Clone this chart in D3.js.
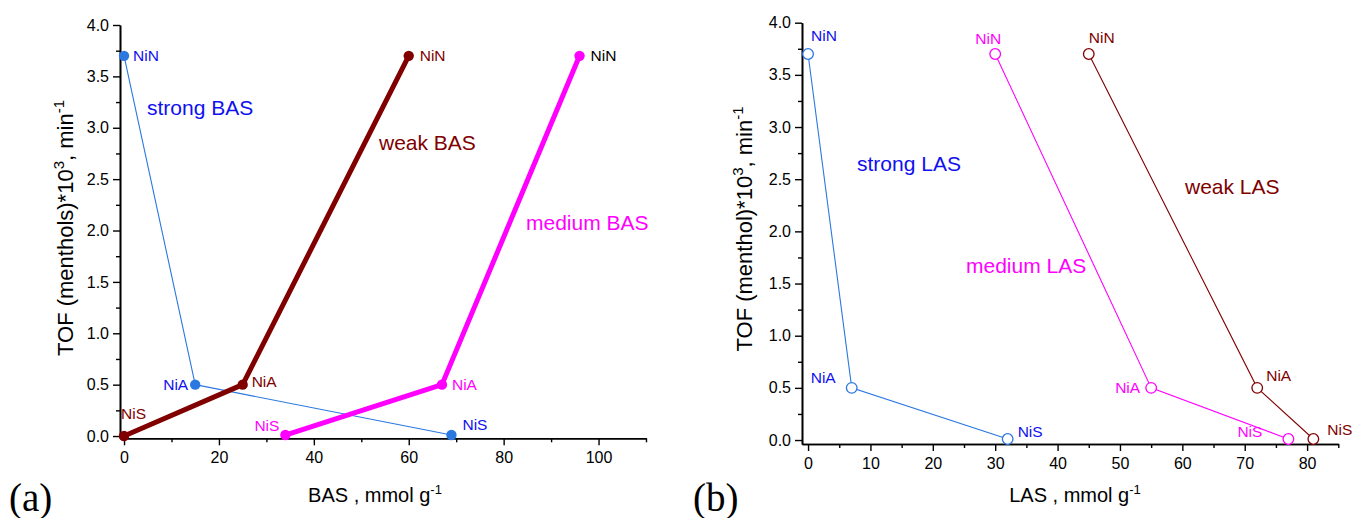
<!DOCTYPE html>
<html>
<head>
<meta charset="utf-8">
<script src="https://cdn.jsdelivr.net/npm/d3@7/dist/d3.min.js"></script>
<style>
  html, body { margin: 0; padding: 0; background: #fff; }
  svg { display: block; font-family: "Liberation Sans", Arial, Helvetica, sans-serif; }
</style>
</head>
<body>
<svg id="chart" width="1352" height="518"></svg>
<script>
// ---------- DATA ----------
const pointNames = ["NiN", "NiA", "NiS"];

// Panel (a): TOF vs BAS
const basStrongX = [0, 15, 69];
const basStrongY = [3.7, 0.5, 0.01];
const basWeakX = [60, 25, 0];
const basWeakY = [3.7, 0.5, 0.0];
const basMediumX = [96, 67, 34];
const basMediumY = [3.7, 0.5, 0.01];

// Panel (b): TOF vs LAS
const lasStrongX = [0, 7, 32];
const lasStrongY = [3.7, 0.5, 0.01];
const lasMediumX = [30, 55, 77];
const lasMediumY = [3.7, 0.5, 0.01];
const lasWeakX = [45, 72, 81];
const lasWeakY = [3.7, 0.5, 0.01];

// Tick values
const yTickValues = [0, 0.5, 1.0, 1.5, 2.0, 2.5, 3.0, 3.5, 4.0];
const yMinorValues = [0.25, 0.75, 1.25, 1.75, 2.25, 2.75, 3.25, 3.75];
const xTickValuesA = [0, 20, 40, 60, 80, 100];
const xMinorValuesA = [10, 30, 50, 70, 90, 110];
const xTickValuesB = [0, 10, 20, 30, 40, 50, 60, 70, 80];
const xMinorValuesB = [5, 15, 25, 35, 45, 55, 65, 75, 85];

// ---------- STYLE / LAYOUT ----------
const C_BLUE_LINE = "#2a78e0";
const C_BLUE_TEXT = "#1010f0";
const C_DARKRED = "#800000";
const C_MAGENTA = "#ff00ff";

const svg = d3.select("#chart");

function makeSeries(xs, ys) {
  return xs.map((x, i) => ({ x: x, y: ys[i], name: pointNames[i] }));
}

function drawAxes(g, x, y, xTicks, xMinor, xTitle, yTitleMain, yTitleX, yTitleY, xTitleX) {
  const yAxis = d3.axisLeft(y).tickValues(yTickValues).tickFormat(d3.format(".1f")).tickSize(7).tickSizeOuter(0);
  const yAxisMinor = d3.axisLeft(y).tickValues(yMinorValues).tickFormat("").tickSize(4).tickSizeOuter(0);
  const xAxis = d3.axisBottom(x).tickValues(xTicks).tickFormat(d3.format("d")).tickSize(7).tickSizeOuter(0);
  const xAxisMinor = d3.axisBottom(x).tickValues(xMinor).tickFormat("").tickSize(4).tickSizeOuter(0);

  const x0 = x.range()[0];
  const y0 = y.range()[0];

  const gy = g.append("g").attr("transform", `translate(${x0},0)`).call(yAxis);
  g.append("g").attr("transform", `translate(${x0},0)`).call(yAxisMinor);
  const gx = g.append("g").attr("transform", `translate(0,${y0})`).call(xAxis);
  g.append("g").attr("transform", `translate(0,${y0})`).call(xAxisMinor);

  g.selectAll(".domain").attr("stroke", "#000").attr("stroke-width", 1.6);
  g.selectAll(".tick line").attr("stroke", "#000").attr("stroke-width", 1.4);
  gy.selectAll(".tick text").attr("font-size", 16).attr("fill", "#000").attr("dx", -1)
    .style("font-family", "'Liberation Sans', Arial, sans-serif");
  gx.selectAll(".tick text").attr("font-size", 16).attr("fill", "#000").attr("dy", "0.95em")
    .style("font-family", "'Liberation Sans', Arial, sans-serif");

  // x title
  const xt = g.append("text").attr("x", xTitleX).attr("y", 502)
    .attr("text-anchor", "middle").attr("font-size", 20).attr("fill", "#000");
  xt.append("tspan").text(xTitle);
  xt.append("tspan").attr("font-size", 13).attr("dy", -8).text("-1");

  // y title
  const yt = g.append("text")
    .attr("transform", `translate(${yTitleX},${yTitleY}) rotate(-90)`)
    .attr("text-anchor", "middle").attr("font-size", 22).attr("fill", "#000");
  yt.append("tspan").text(yTitleMain);
  yt.append("tspan").attr("font-size", 15).attr("dy", -9).text("3");
  yt.append("tspan").attr("dy", 9).text(", min");
  yt.append("tspan").attr("font-size", 15).attr("dy", -9).text("-1");
}

function drawLabel(g, x, y, d, off, color) {
  g.append("text")
    .attr("x", x(d.x) + off[0]).attr("y", y(d.y) + off[1])
    .attr("text-anchor", off[2]).attr("dominant-baseline", "central")
    .attr("font-size", 15.5).attr("fill", color).text(d.name);
}

// ---------- PANEL (a) ----------
const gA = svg.append("g");
const xA = d3.scaleLinear().domain([-0.85, 110]).range([120, 646]);
const yA = d3.scaleLinear().domain([-0.022, 4.0]).range([438.3, 25]);
drawAxes(gA, xA, yA, xTickValuesA, xMinorValuesA, "BAS , mmol g", "TOF (menthols)*10", 73, 228, 375);

const lineA = d3.line().x(d => xA(d.x)).y(d => yA(d.y));
const seriesA = [
  { data: makeSeries(basStrongX, basStrongY), color: C_BLUE_LINE, width: 1.1,
    labelColors: [C_BLUE_TEXT, C_BLUE_TEXT, C_BLUE_TEXT],
    offsets: [[9, 0, "start"], [-7, 0, "end"], [11, -11, "start"]] },
  { data: makeSeries(basWeakX, basWeakY), color: C_DARKRED, width: 5,
    labelColors: [C_DARKRED, C_DARKRED, C_DARKRED],
    offsets: [[11, 0, "start"], [9, -3, "start"], [-3, -23, "start"]] },
  { data: makeSeries(basMediumX, basMediumY), color: C_MAGENTA, width: 5,
    labelColors: ["#000", C_MAGENTA, C_MAGENTA],
    offsets: [[11, 0, "start"], [10, 0, "start"], [-6, -10, "end"]] }
];
seriesA.forEach(s => {
  gA.append("path").datum(s.data).attr("d", lineA).attr("fill", "none")
    .attr("stroke", s.color).attr("stroke-width", s.width).attr("stroke-linejoin", "round");
});
seriesA.forEach(s => {
  gA.selectAll(null).data(s.data).enter().append("circle")
    .attr("cx", d => xA(d.x)).attr("cy", d => yA(d.y)).attr("r", 5.2).attr("fill", s.color);
  s.data.forEach((d, i) => drawLabel(gA, xA, yA, d, s.offsets[i], s.labelColors[i]));
});

gA.append("text").attr("x", 147).attr("y", 107).attr("dominant-baseline", "central")
  .attr("font-size", 21).attr("fill", C_BLUE_TEXT).text("strong BAS");
gA.append("text").attr("x", 379).attr("y", 142).attr("dominant-baseline", "central")
  .attr("font-size", 21).attr("fill", C_DARKRED).text("weak BAS");
gA.append("text").attr("x", 526).attr("y", 222).attr("dominant-baseline", "central")
  .attr("font-size", 21).attr("fill", C_MAGENTA).text("medium BAS");
gA.append("text").attr("x", 9).attr("y", 511)
  .attr("font-family", "'Liberation Serif', 'Times New Roman', serif").attr("font-size", 39)
  .attr("fill", "#000").text("(a)");

// ---------- PANEL (b) ----------
const gB = svg.append("g");
const xB = d3.scaleLinear().domain([-0.97, 85]).range([802, 1338.3]);
const yB = d3.scaleLinear().domain([-0.038, 4.0]).range([444, 22.7]);
drawAxes(gB, xB, yB, xTickValuesB, xMinorValuesB, "LAS , mmol g", "TOF (menthol)*10", 752, 229, 1075);

const lineB = d3.line().x(d => xB(d.x)).y(d => yB(d.y));
const seriesB = [
  { data: makeSeries(lasStrongX, lasStrongY), color: C_BLUE_LINE, labelColor: C_BLUE_TEXT,
    offsets: [[3, -19, "start"], [-16, -10, "end"], [10, -7, "start"]] },
  { data: makeSeries(lasMediumX, lasMediumY), color: C_MAGENTA, labelColor: C_MAGENTA,
    offsets: [[-7, -16, "middle"], [-11, 0, "end"], [-26, -7, "end"]] },
  { data: makeSeries(lasWeakX, lasWeakY), color: C_DARKRED, labelColor: C_DARKRED,
    offsets: [[13, -17, "middle"], [9, -12, "start"], [14, -9, "start"]] }
];
seriesB.forEach(s => {
  gB.append("path").datum(s.data).attr("d", lineB).attr("fill", "none")
    .attr("stroke", s.color).attr("stroke-width", 1.1);
});
seriesB.forEach(s => {
  gB.selectAll(null).data(s.data).enter().append("circle")
    .attr("cx", d => xB(d.x)).attr("cy", d => yB(d.y)).attr("r", 5.3)
    .attr("fill", "#fff").attr("stroke", s.color).attr("stroke-width", 1.3);
  s.data.forEach((d, i) => drawLabel(gB, xB, yB, d, s.offsets[i], s.labelColor));
});

gB.append("text").attr("x", 857).attr("y", 163).attr("dominant-baseline", "central")
  .attr("font-size", 21).attr("fill", C_BLUE_TEXT).text("strong LAS");
gB.append("text").attr("x", 1185).attr("y", 186).attr("dominant-baseline", "central")
  .attr("font-size", 21).attr("fill", C_DARKRED).text("weak LAS");
gB.append("text").attr("x", 966).attr("y", 265).attr("dominant-baseline", "central")
  .attr("font-size", 21).attr("fill", C_MAGENTA).text("medium LAS");
gB.append("text").attr("x", 693).attr("y", 511)
  .attr("font-family", "'Liberation Serif', 'Times New Roman', serif").attr("font-size", 39)
  .attr("fill", "#000").text("(b)");
</script>
</body>
</html>
